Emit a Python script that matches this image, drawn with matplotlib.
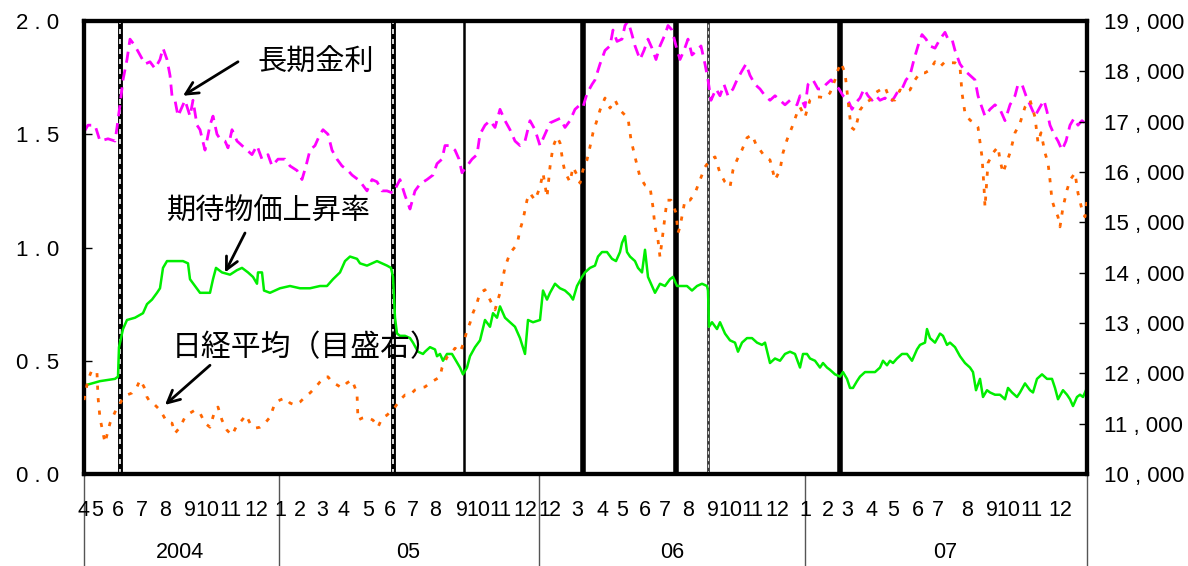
import matplotlib
matplotlib.use("Agg")
import matplotlib.pyplot as plt
import matplotlib.transforms as mtransforms

plt.rcParams['font.family'] = ['Liberation Sans', 'Noto Sans CJK JP', 'DejaVu Sans']

# x = trading-day index from the start of April 2004 (axis runs 0 .. 1003)
rate_day = [0, 4, 11, 16, 24, 31, 33, 36, 39, 43, 46, 51, 56, 61, 66, 71, 76, 79, 83, 86, 88, 91, 94,
            98, 101, 106, 109, 113, 116, 121, 126, 129, 133, 136, 141, 144, 148, 153, 158, 163, 168,
            173, 178, 184, 188, 194, 201, 206, 213, 218, 222, 226, 231, 236, 239, 244, 248, 253, 258,
            264, 268, 274, 278, 283, 288, 293, 298, 303, 309, 316, 321, 326, 331, 336, 343, 349, 353,
            358, 361, 366, 371, 375, 378, 383, 388, 393, 396, 401, 406, 411, 416, 421, 426, 431, 436,
            441, 446, 451, 456, 461, 466, 471, 476, 481, 486, 491, 496, 499, 503, 508, 511, 516, 521,
            526, 529, 533, 538, 541, 544, 548, 551, 556, 560, 564, 568, 572, 576, 581, 584, 588, 592,
            596, 600, 604, 608, 613, 617, 621, 624, 627, 632, 636, 640, 644, 649, 653, 658, 662, 666,
            671, 676, 681, 686, 691, 696, 701, 706, 713, 716, 721, 724, 729, 734, 738, 742, 747, 751,
            755, 759, 764, 768, 772, 776, 780, 784, 788, 792, 796, 801, 806, 810, 814, 818, 822, 826,
            830, 834, 838, 842, 846, 851, 856, 861, 864, 868, 871, 876, 881, 886, 891, 894, 897, 901,
            906, 911, 916, 921, 926, 931, 934, 938, 942, 946, 951, 956, 960, 963, 966, 970, 974, 978,
            982, 986, 990, 994, 998, 1003]
rate = [1.51, 1.54, 1.54, 1.47, 1.48, 1.47, 1.53, 1.63, 1.74, 1.83, 1.92, 1.89, 1.85, 1.81, 1.82,
        1.79, 1.83, 1.88, 1.83, 1.76, 1.67, 1.65, 1.58, 1.62, 1.65, 1.58, 1.65, 1.54, 1.52, 1.43,
        1.54, 1.58, 1.50, 1.48, 1.47, 1.44, 1.52, 1.47, 1.45, 1.43, 1.41, 1.45, 1.39, 1.41, 1.36,
        1.39, 1.39, 1.36, 1.34, 1.30, 1.36, 1.43, 1.45, 1.50, 1.52, 1.50, 1.43, 1.39, 1.36, 1.34,
        1.32, 1.30, 1.28, 1.25, 1.30, 1.29, 1.25, 1.25, 1.24, 1.30, 1.23, 1.17, 1.25, 1.28, 1.30,
        1.32, 1.37, 1.39, 1.45, 1.45, 1.43, 1.39, 1.33, 1.36, 1.39, 1.41, 1.50, 1.54, 1.56, 1.53,
        1.61, 1.56, 1.52, 1.47, 1.45, 1.47, 1.56, 1.52, 1.45, 1.50, 1.55, 1.56, 1.57, 1.53, 1.56,
        1.61, 1.63, 1.62, 1.68, 1.72, 1.74, 1.81, 1.87, 1.89, 1.96, 1.91, 1.92, 1.98, 2.00, 1.94,
        1.89, 1.83, 1.87, 1.92, 1.88, 1.83, 1.89, 1.94, 1.98, 1.96, 1.89, 1.83, 1.87, 1.92, 1.85,
        1.87, 1.89, 1.81, 1.74, 1.65, 1.70, 1.67, 1.72, 1.67, 1.70, 1.74, 1.78, 1.81, 1.76, 1.72,
        1.70, 1.67, 1.65, 1.67, 1.65, 1.63, 1.65, 1.63, 1.67, 1.62, 1.72, 1.74, 1.70, 1.70, 1.72,
        1.74, 1.72, 1.70, 1.67, 1.65, 1.61, 1.64, 1.66, 1.70, 1.67, 1.65, 1.67, 1.65, 1.66, 1.64,
        1.66, 1.69, 1.70, 1.74, 1.76, 1.83, 1.89, 1.94, 1.92, 1.89, 1.88, 1.92, 1.95, 1.92, 1.92,
        1.87, 1.81, 1.78, 1.76, 1.74, 1.67, 1.63, 1.58, 1.61, 1.63, 1.61, 1.56, 1.63, 1.67, 1.72,
        1.72, 1.67, 1.63, 1.58, 1.62, 1.65, 1.60, 1.54, 1.50, 1.47, 1.43, 1.47, 1.54, 1.57, 1.54,
        1.56, 1.54]

nikkei_day = [0, 4, 8, 13, 14, 16, 18, 21, 26, 31, 34, 38, 43, 48, 53, 56, 60, 63, 66, 71, 76, 79,
              83, 88, 91, 96, 101, 106, 111, 116, 121, 126, 131, 134, 138, 143, 148, 153, 158, 162,
              166, 171, 176, 181, 186, 191, 196, 201, 206, 211, 216, 221, 226, 231, 236, 241, 244,
              248, 253, 258, 263, 268, 273, 274, 278, 283, 289, 294, 298, 303, 308, 311, 316, 321,
              326, 331, 336, 341, 346, 351, 356, 358, 363, 368, 371, 376, 380, 383, 386, 389, 393,
              396, 401, 406, 411, 416, 421, 426, 431, 434, 436, 439, 443, 446, 451, 456, 459, 463,
              466, 469, 473, 476, 479, 481, 486, 489, 493, 496, 499, 503, 506, 509, 513, 516, 521,
              526, 531, 536, 541, 544, 547, 551, 556, 561, 566, 569, 571, 574, 576, 579, 583, 587,
              592, 594, 596, 601, 606, 611, 616, 621, 626, 631, 636, 641, 646, 649, 653, 658, 663,
              668, 673, 676, 681, 686, 691, 696, 699, 703, 708, 713, 716, 721, 726, 731, 736, 741,
              746, 751, 754, 757, 761, 764, 767, 771, 776, 781, 786, 791, 796, 801, 806, 811, 816,
              821, 826, 831, 836, 841, 846, 851, 856, 861, 866, 871, 876, 878, 881, 886, 891, 894,
              898, 900, 901, 904, 909, 914, 916, 919, 921, 926, 931, 936, 941, 946, 951, 954, 957,
              961, 964, 966, 968, 971, 974, 976, 979, 983, 986, 991, 994, 998, 1001, 1003]
nikkei = [11470, 11870, 12070, 12010, 11530, 11110, 10910, 10620, 11010, 11230, 11330, 11470, 11570,
          11610, 11730, 11870, 11730, 11530, 11430, 11370, 11270, 11170, 11030, 11010, 10810, 10930,
          11130, 11210, 11270, 11210, 11010, 10930, 11270, 11330, 11070, 10870, 10770, 10970, 11070,
          11170, 11010, 10910, 10930, 11010, 11130, 11410, 11470, 11510, 11410, 11370, 11430, 11530,
          11610, 11710, 11830, 11930, 11930, 11830, 11770, 11710, 11810, 11870, 11610, 11070, 11110,
          11130, 11070, 10930, 11110, 11170, 11270, 11330, 11470, 11570, 11570, 11670, 11710, 11730,
          11810, 11870, 11930, 12110, 12320, 12420, 12500, 12420, 12620, 12860, 13000, 13200, 13400,
          13600, 13660, 13460, 13260, 13600, 14110, 14390, 14510, 14650, 14850, 15050, 15440, 15580,
          15440, 15700, 15980, 15500, 16100, 16500, 16700, 16580, 16180, 16000, 15800, 16100, 15940,
          15780, 16040, 16240, 16500, 16780, 17030, 17230, 17470, 17270, 17430, 17230, 17130, 17070,
          16640, 16300, 15900, 15740, 15700, 15300, 14910, 14650, 14310, 14790, 15440, 15440, 15190,
          14790, 14910, 15440, 15440, 15580, 15840, 16100, 16240, 16300, 15980, 15800, 15700, 16040,
          16240, 16440, 16680, 16740, 16500, 16440, 16300, 16240, 15840, 16040, 16380, 16640, 16890,
          17170, 17290, 17090, 17430, 17490, 17490, 17470, 17570, 17830, 18030, 18170, 17970, 17430,
          16890, 16830, 17230, 17370, 17430, 17570, 17630, 17690, 17430, 17430, 17630, 17590, 17630,
          17830, 17970, 17970, 18030, 18190, 18090, 18190, 18170, 18170, 18090, 17570, 17170, 17030,
          16970, 16890, 16300, 15700, 15300, 16180, 16380, 16500, 16240, 15980, 16100, 16380, 16780,
          16970, 17290, 17430, 17090, 16580, 16780, 16380, 16180, 15840, 15440, 15250, 15110, 14910,
          15300, 15640, 15840, 15980, 15580, 15250, 15110, 15440]

bei_day = [0, 16, 31, 34, 35, 39, 43, 51, 59, 63, 68, 73, 76, 79, 83, 91, 99, 104, 106, 111, 116,
           126, 129, 132, 138, 146, 153, 158, 164, 169, 173, 174, 178, 180, 186, 196, 206, 216, 226,
           236, 243, 249, 256, 261, 266, 273, 276, 283, 293, 303, 307, 309, 311, 313, 316, 321, 326,
           329, 334, 339, 341, 346, 351, 353, 356, 359, 363, 368, 372, 376, 379, 383, 386, 391, 396,
           401, 406, 409, 413, 416, 421, 426, 431, 436, 441, 444, 449, 456, 459, 463, 466, 471, 476,
           481, 486, 489, 493, 498, 501, 506, 511, 514, 518, 523, 528, 532, 536, 538, 541, 543, 546,
           551, 554, 558, 561, 564, 568, 571, 576, 581, 586, 589, 593, 598, 603, 608, 613, 618, 623,
           624, 625, 628, 633, 636, 641, 646, 651, 654, 658, 663, 668, 673, 678, 681, 686, 691, 696,
           701, 706, 711, 716, 719, 723, 726, 731, 736, 739, 743, 746, 751, 756, 759, 763, 766, 769,
           773, 776, 781, 786, 791, 796, 799, 803, 806, 809, 813, 818, 823, 828, 833, 836, 841, 843,
           846, 851, 856, 859, 863, 866, 871, 876, 881, 886, 889, 892, 896, 899, 903, 906, 911, 916,
           921, 924, 928, 933, 936, 941, 946, 949, 953, 958, 963, 968, 971, 974, 979, 983, 986, 989,
           993, 996, 999, 1003]
bei = [0.39, 0.41, 0.42, 0.43, 0.56, 0.64, 0.68, 0.69, 0.71, 0.75, 0.77, 0.80, 0.82, 0.91, 0.94,
       0.94, 0.94, 0.93, 0.86, 0.83, 0.80, 0.80, 0.86, 0.91, 0.89, 0.88, 0.90, 0.91, 0.89, 0.87,
       0.84, 0.89, 0.89, 0.81, 0.80, 0.82, 0.83, 0.82, 0.82, 0.83, 0.83, 0.86, 0.89, 0.94, 0.96,
       0.95, 0.93, 0.92, 0.94, 0.92, 0.91, 0.87, 0.69, 0.62, 0.61, 0.61, 0.60, 0.58, 0.54, 0.53,
       0.54, 0.56, 0.55, 0.52, 0.53, 0.50, 0.53, 0.53, 0.50, 0.47, 0.44, 0.47, 0.52, 0.56, 0.59,
       0.68, 0.65, 0.71, 0.69, 0.74, 0.69, 0.67, 0.65, 0.60, 0.53, 0.68, 0.67, 0.68, 0.81, 0.77,
       0.80, 0.84, 0.82, 0.81, 0.79, 0.77, 0.83, 0.87, 0.89, 0.91, 0.92, 0.96, 0.98, 0.98, 0.95,
       0.94, 0.98, 1.02, 1.05, 0.98, 0.96, 0.94, 0.91, 0.89, 0.99, 0.87, 0.83, 0.80, 0.84, 0.83,
       0.86, 0.87, 0.83, 0.83, 0.83, 0.81, 0.83, 0.84, 0.83, 0.81, 0.65, 0.67, 0.64, 0.67, 0.62,
       0.59, 0.58, 0.54, 0.58, 0.60, 0.60, 0.58, 0.57, 0.58, 0.49, 0.51, 0.50, 0.53, 0.54, 0.53,
       0.47, 0.53, 0.53, 0.51, 0.50, 0.47, 0.49, 0.47, 0.46, 0.44, 0.43, 0.45, 0.42, 0.38, 0.38,
       0.41, 0.43, 0.45, 0.45, 0.45, 0.47, 0.50, 0.48, 0.50, 0.49, 0.51, 0.53, 0.53, 0.50, 0.55,
       0.57, 0.58, 0.64, 0.60, 0.58, 0.62, 0.61, 0.57, 0.58, 0.56, 0.52, 0.49, 0.47, 0.45, 0.37,
       0.42, 0.34, 0.37, 0.36, 0.35, 0.35, 0.33, 0.38, 0.36, 0.34, 0.36, 0.40, 0.37, 0.36, 0.42,
       0.44, 0.42, 0.42, 0.38, 0.33, 0.37, 0.35, 0.33, 0.30, 0.34, 0.35, 0.34, 0.38]

# month labels: position (day index) and text
month_day = [0, 13, 34, 58, 81, 106, 123, 146, 172,
             196, 216, 238, 260, 284, 306, 329, 351, 378, 394, 416, 441,
             460, 471, 493, 519, 538, 561, 581, 604, 629, 646, 668, 693,
             721, 744, 763, 788, 809, 834, 854, 883, 908, 924, 947, 976]
month_txt = ['4', '5', '6', '7', '8', '9', '10', '11', '12'] + \
            [str(m) for m in range(1, 13)] * 3
year_sep = [0, 195, 455, 721, 1003]
year_day = [96, 324, 588, 861]
year_txt = ['2004', '05', '06', '07']

# event lines: (day, style)
events = [(36, 'dash'), (309, 'dash'), (380, 'thin'), (499, 'thick'),
          (592, 'thick'), (624, 'grey'), (756, 'thick')]

fig = plt.figure(figsize=(11.88, 5.66), dpi=100)
ax = fig.add_axes([84 / 1188, 92 / 566, 1003 / 1188, 453 / 566])
ax2 = ax.twinx()

for d, st in events:
    if st == 'dash':
        ax.axvline(d, color='black', lw=3.5, zorder=1)
        ax.axvline(d, color='white', lw=1.2, ls=(0, (3, 3)), zorder=1.1)
    elif st == 'thick':
        ax.axvline(d, color='black', lw=4, zorder=1)
    elif st == 'grey':
        ax.axvline(d, color='#333333', lw=2, zorder=1)
        ax.axvline(d, color='#dddddd', lw=0.8, ls=(0, (3, 3)), zorder=1.1)
    else:
        ax.axvline(d, color='black', lw=1.8, zorder=1)

ax.plot(rate_day, rate, color='#ff00ff', lw=2, ls=(0, (4, 2.5)), zorder=3)
ax.plot(bei_day, bei, color='#00ee00', lw=1.8, zorder=3)
ax2.plot(nikkei_day, nikkei, color='#ff6600', lw=2, ls=(0, (1.5, 3)), zorder=3)

ax.set_xlim(0, 1003)
ax.set_ylim(0, 2.0)
ax2.set_ylim(10000, 19000)
ax.set_xticks([])
ax.set_yticks([0, 0.5, 1.0, 1.5, 2.0])
ax.set_yticklabels([f"{v:.1f}".replace('.', ' . ') for v in [0, 0.5, 1.0, 1.5, 2.0]],
                   fontsize=16)
ax2.set_yticks(range(10000, 19001, 1000))
ax2.set_yticklabels([f"{v // 1000} , 000" for v in range(10000, 19001, 1000)], fontsize=16)
ax.tick_params(axis='y', direction='in', length=6, width=1, pad=18)
ax2.tick_params(axis='y', direction='in', length=6, width=1, pad=12)
for a in (ax, ax2):
    for s in a.spines.values():
        s.set_linewidth(3)

trans = mtransforms.blended_transform_factory(ax.transData, ax.transAxes)
for d, t in zip(month_day, month_txt):
    ax.text(d, -37 / 453, t, transform=trans, ha='center', va='center', fontsize=15.5)
for d, t in zip(year_day, year_txt):
    ax.text(d, -79 / 453, t, transform=trans, ha='center', va='center', fontsize=15.5)
for d in year_sep:
    ax.plot([d, d], [0, -92 / 453], transform=trans, color='#555555', lw=1, clip_on=False)

jp = ['Noto Sans CJK JP', 'DejaVu Sans']
arrow = dict(arrowstyle='->', color='black', lw=2, mutation_scale=22, shrinkA=0, shrinkB=0)
ax.text(173, 1.815, '長期金利', fontsize=21, family=jp, ha='left', va='center')
ax.annotate('', xy=(99, 1.67), xytext=(154, 1.82), arrowprops=arrow)
ax.text(83, 1.157, '期待物価上昇率', fontsize=21, family=jp, ha='left', va='center')
ax.annotate('', xy=(141, 0.89), xytext=(161, 1.064), arrowprops=arrow)
ax.text(88, 0.56, '日経平均（目盛右）', fontsize=21.5, family=jp, ha='left', va='center')
ax.annotate('', xy=(81, 0.305), xytext=(126, 0.48), arrowprops=arrow)

fig.savefig('out.png', dpi=100)
